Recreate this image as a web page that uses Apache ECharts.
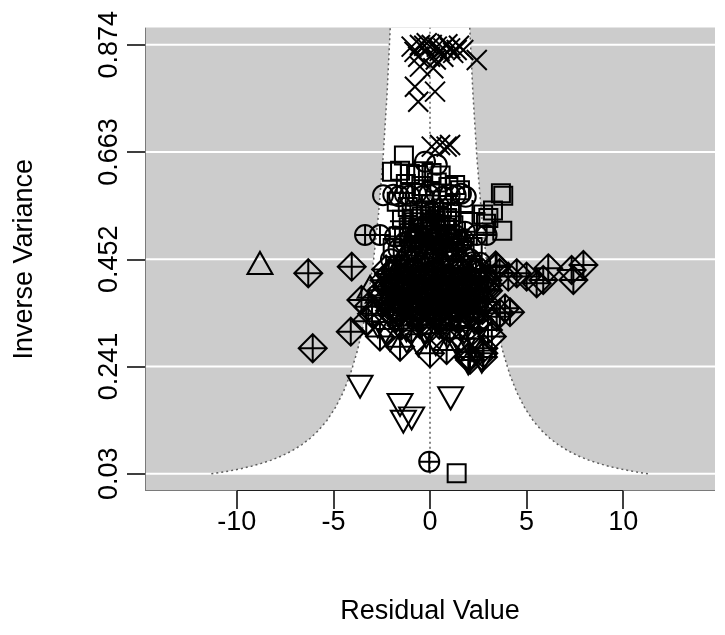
<!DOCTYPE html>
<html><head><meta charset="utf-8">
<script src="https://cdn.jsdelivr.net/npm/echarts@6/dist/echarts.min.js"></script>
<style>html,body{margin:0;padding:0;background:#fff}#main{width:725px;height:635px}</style>
</head><body><div id="main"></div>
<script>
// ---- axes ----
const xTicks = [-10, -5, 0, 5, 10];
const yTicks = [0.03, 0.241, 0.452, 0.663, 0.874];
const yTickLabels = ['0.03', '0.241', '0.452', '0.663', '0.874'];
const xRange = [-14.75, 14.75];
const yRange = [-0.0038, 0.9078];

// ---- funnel (pseudo confidence region) ----
const funnelY = [0.030,0.033,0.036,0.040,0.045,0.050,0.057,0.065,0.075,0.087,0.100,0.115,0.135,0.160,0.190,0.225,0.270,0.320,0.380,0.450,0.540,0.650,0.780,0.9078];
const funnelHalfWidth = [11.316,10.789,10.330,9.800,9.239,8.765,8.210,7.688,7.157,6.645,6.198,5.780,5.334,4.900,4.497,4.132,3.772,3.465,3.180,2.922,2.667,2.431,2.219,2.057];

// ---- points by plotting symbol ----
const squarePts = [
 [-1.62,0.497],[-1.08,0.503],[-0.53,0.494],[0.02,0.506],[0.51,0.498],[1.04,0.502],[1.48,0.493],
 [-1.93,0.474],[-1.41,0.468],[-0.86,0.477],[-0.31,0.471],[0.22,0.479],[0.74,0.466],[1.26,0.475],[1.79,0.469],[2.21,0.476],
 [-1.35,0.656],[-1.97,0.624],[-1.55,0.626],[-1.04,0.620],[-0.72,0.618],[-0.35,0.625],[0.08,0.622],[0.55,0.617],[1.30,0.598],[1.55,0.588],
 [-1.72,0.565],[-1.15,0.555],[-0.55,0.548],[0.05,0.560],[0.62,0.552],[1.12,0.545],[-1.45,0.530],[-0.80,0.525],[0.30,0.528],[0.90,0.532],
 [-1.25,0.600],[-0.45,0.596],[0.35,0.603],[0.95,0.594],[-0.95,0.540],[0.55,0.520],[-0.15,0.515],
 [-1.10,0.515],[-0.62,0.511],[0.12,0.522],[0.78,0.514],[1.21,0.519],
 [-0.85,0.532],[-0.42,0.536],[0.02,0.531],[0.46,0.537],[0.88,0.533],[-0.20,0.548],[0.25,0.545],
 [3.79,0.577],[3.67,0.582],[3.26,0.548],[3.02,0.533],[3.74,0.508],[2.75,0.540],[2.90,0.522],
 [1.38,0.031]
];
const circlePts = [
 [-2.43,0.578],[-1.90,0.579],[-1.60,0.576],[-1.30,0.580],[-1.05,0.577],[-0.72,0.581],[-0.38,0.576],[-0.05,0.579],
 [0.33,0.582],[0.68,0.575],[1.02,0.579],[1.33,0.578],[1.60,0.581],[1.85,0.575],
 [-0.26,0.644],[0.35,0.638],
 [-1.22,0.455],[-0.64,0.448],[-0.10,0.458],[0.47,0.451],[1.02,0.456],[1.58,0.447],[2.08,0.452],[-1.75,0.440],[2.60,0.445],
 [1.30,0.500],[1.75,0.490],
 [-1.63,0.472],[-0.66,0.468],[0.37,0.473],[1.36,0.467],[-2.02,0.452],[-0.95,0.447],[0.09,0.453],[1.14,0.449],[2.19,0.446]
];
const triUpPts = [
 [-8.80,0.4448],[-3.10,0.398],[-2.68,0.388],[-2.05,0.433],[-1.45,0.440],[-0.92,0.432],[-0.38,0.437],[0.18,0.431],
 [0.72,0.439],[1.21,0.434],[1.73,0.430],[2.27,0.438],[-1.80,0.388],[-0.60,0.370],[0.50,0.368],[1.55,0.370],
 [-1.18,0.471],[-0.14,0.466],[0.88,0.474],[1.87,0.469],[-1.47,0.451],[-0.41,0.455],[0.61,0.448],[1.66,0.454],
 [-0.90,0.500],[-0.35,0.497],[0.22,0.501],[0.70,0.497]
];
const plusPts = [
 [-1.40,0.527],[-1.00,0.515],[0.20,0.535],[1.50,0.545],[2.20,0.543],[-0.50,0.505],[0.80,0.510]
];
const crossPts = [
 [-0.95,0.8703],[-0.52,0.8737],[-0.17,0.877],[0.09,0.8737],[0.35,0.8703],[0.69,0.867],[1.04,0.867],[1.38,0.8638],
 [1.72,0.8638],[2.42,0.8441],[-0.61,0.8506],[0.00,0.8506],[0.69,0.8506],[-0.52,0.831],[0.17,0.8278],
 [-0.78,0.7916],[0.26,0.7818],[-0.61,0.762],[0.09,0.6736],[0.52,0.677],[0.86,0.6736],[1.04,0.677],
 [-0.30,0.872],[0.50,0.862],[1.20,0.858],[-0.80,0.860],[0.30,0.845],[1.50,0.872],[0.90,0.875]
];
const triDownPts = [
 [-3.62,0.2014],[-1.55,0.1654],[-0.95,0.139],[-1.38,0.1325],[1.07,0.1786],
 [1.98,0.2474],[2.68,0.2506],[-2.07,0.2933],[-1.20,0.290],[-0.60,0.283],[0.30,0.285],[1.30,0.290],
 [2.30,0.295],[-2.70,0.320],[-0.20,0.300],[0.90,0.300],[1.70,0.275],[-2.33,0.307],[2.17,0.274],
 [-1.73,0.331],[-0.71,0.334],[0.33,0.329],[1.31,0.332],[2.28,0.328],
 [-1.22,0.312],[-0.26,0.309],[0.74,0.313],[1.77,0.308]
];
const diamondPlusPts = [
 [-6.30,0.4245],[-4.05,0.4375],[-4.10,0.3096],[-6.07,0.277],
 [4.49,0.4245],[5.00,0.418],[6.12,0.4343],[5.86,0.4113],[7.33,0.431],[7.94,0.4408],[7.42,0.4113],[4.05,0.418],[5.52,0.4048],
 [3.88,0.3556],[3.45,0.339],[2.76,0.277],[1.98,0.260],[3.62,0.346],[3.00,0.313],[2.74,0.260],[2.07,0.260],[4.14,0.348],[3.45,0.437],
 [-3.19,0.3588],[-2.59,0.300],[-1.55,0.280],[0.00,0.267],[0.86,0.2736],[2.07,0.254],[2.76,0.267],
 [-3.55,0.372],[-3.00,0.345],[-3.30,0.330],[3.20,0.300],[3.00,0.390],[3.40,0.440],[3.60,0.425],
 [-2.13,0.423],[-1.58,0.417],[-1.12,0.426],[-0.57,0.414],[-0.08,0.421],[0.43,0.428],[0.87,0.415],[1.42,0.424],[1.93,0.418],[2.38,0.427],[2.83,0.413],
 [-2.24,0.398],[-1.73,0.404],[-1.16,0.395],[-0.72,0.402],[-0.17,0.397],[0.33,0.405],[0.81,0.394],[1.27,0.401],[1.84,0.396],[2.31,0.403],[2.74,0.392],
 [-2.46,0.381],[-1.88,0.376],[-1.41,0.384],[-0.93,0.378],[-0.38,0.383],[0.12,0.375],[0.63,0.382],[1.08,0.377],[1.62,0.385],[2.14,0.379],[2.61,0.374],
 [-2.18,0.362],[-1.69,0.356],[-1.22,0.364],[-0.66,0.358],[-0.23,0.363],[0.28,0.355],[0.79,0.361],[1.33,0.357],[1.77,0.364],[2.29,0.358],[2.71,0.352],
 [-1.92,0.342],[-1.37,0.336],[-0.88,0.344],[-0.42,0.337],[0.14,0.343],[0.57,0.335],[1.13,0.341],[1.58,0.338],[2.07,0.345],[2.53,0.333],
 [-1.47,0.322],[-0.97,0.316],[-0.52,0.324],[0.04,0.318],[0.48,0.323],[1.02,0.315],[1.53,0.321],[1.96,0.317],
 [-2.27,0.432],[-1.79,0.428],[-1.31,0.434],[-0.83,0.429],[-0.29,0.433],[0.21,0.427],[0.68,0.431],[1.18,0.435],[1.71,0.428],[2.16,0.433],[2.63,0.429],
 [-2.36,0.411],[-1.85,0.407],[-1.38,0.413],[-0.89,0.409],[-0.33,0.412],[0.18,0.406],[0.66,0.411],[1.13,0.414],[1.67,0.408],[2.12,0.412],[2.58,0.407],[2.97,0.411],
 [-2.49,0.391],[-1.97,0.388],[-1.46,0.393],[-0.98,0.389],[-0.45,0.392],[0.07,0.386],[0.55,0.391],[1.04,0.394],[1.52,0.387],[2.03,0.392],[2.49,0.388],[2.92,0.393],
 [-2.31,0.371],[-1.62,0.368],[-1.13,0.373],[-0.63,0.369],[-0.12,0.372],[0.37,0.366],[0.86,0.371],[1.38,0.374],[1.86,0.367],[2.37,0.372],[2.82,0.368],
 [-2.07,0.351],[-1.55,0.348],[-1.04,0.353],[-0.53,0.349],[-0.04,0.352],[0.47,0.346],[0.96,0.351],[1.45,0.354],[1.96,0.347],[2.44,0.352]
];
const circlePlusPts = [
 [-3.36,0.4998],[-2.59,0.4998],[-1.81,0.497],[1.81,0.5063],[2.42,0.4998],[2.93,0.4998],[-0.04,0.0538],
 [-1.30,0.485],[-0.75,0.490],[-0.20,0.484],[0.35,0.492],[0.90,0.486],[1.45,0.480],
 [-1.05,0.488],[-0.50,0.483],[0.12,0.489],[0.62,0.481],[1.12,0.492],[1.62,0.486],[-0.35,0.517],[0.30,0.512]
];

const FONT = '"Liberation Sans", Arial, Helvetica, sans-serif';
const FS = 27;
const INK = { color: 'rgba(0,0,0,0)', borderColor: '#000', borderWidth: 2, opacity: 1 };

function pointSeries(name, data, symbol, size) {
  return { name, type: 'scatter', data, symbol, symbolSize: size, itemStyle: INK, z: 3, silent: true, animation: false };
}

const chart = echarts.init(document.getElementById('main'), null, { renderer: 'canvas' });
chart.setOption({
  animation: false,
  backgroundColor: '#ffffff',
  grid: { left: 145, right: 10, top: 27.6, bottom: 144, show: true, backgroundColor: '#cccccc', borderWidth: 0 },
  xAxis: {
    type: 'value', min: xRange[0], max: xRange[1],
    axisLine: { show: false, onZero: false },
    splitLine: { show: false },
    axisTick: { show: true, customValues: xTicks, length: 18, lineStyle: { color: '#000', width: 1.5 } },
    axisLabel: { customValues: xTicks, margin: 18, fontSize: FS, color: '#000', fontFamily: FONT,
      formatter: v => String(v) },
    name: 'Residual Value', nameLocation: 'middle', nameGap: 107,
    nameTextStyle: { fontSize: FS, color: '#000', fontFamily: FONT }
  },
  yAxis: {
    type: 'value', min: yRange[0], max: yRange[1],
    axisLine: { show: false, onZero: false },
    splitLine: { show: false },
    axisTick: { show: true, customValues: yTicks, length: 18, lineStyle: { color: '#000', width: 1.5 } },
    axisLabel: { customValues: yTicks, margin: 22, rotate: 90, fontSize: FS, color: '#000', fontFamily: FONT,
      formatter: v => { const i = yTicks.findIndex(t => Math.abs(t - v) < 1e-9); return i >= 0 ? yTickLabels[i] : ''; } },
    name: 'Inverse Variance', nameLocation: 'middle', nameGap: 107,
    nameTextStyle: { fontSize: FS, color: '#000', fontFamily: FONT }
  },
  series: [
    {
      type: 'custom', z: 1, silent: true, data: [[0, 0]], clip: true,
      renderItem: function (params, api) {
        const kids = [];
        yTicks.forEach(t => {
          const a = api.coord([xRange[0], t]), b = api.coord([xRange[1], t]);
          kids.push({ type: 'line', shape: { x1: a[0], y1: a[1], x2: b[0], y2: b[1] }, style: { stroke: '#ffffff', lineWidth: 2 } });
        });
        const leftPts = [], rightPts = [];
        for (let i = 0; i < funnelY.length; i++) leftPts.push(api.coord([-funnelHalfWidth[i], funnelY[i]]));
        for (let i = funnelY.length - 1; i >= 0; i--) rightPts.push(api.coord([funnelHalfWidth[i], funnelY[i]]));
        kids.push({ type: 'polygon', shape: { points: leftPts.concat(rightPts) }, style: { fill: '#ffffff' } });
        const dotted = { stroke: '#5e5e5e', lineWidth: 1.5, lineDash: [2, 3], fill: null };
        kids.push({ type: 'polyline', shape: { points: leftPts }, style: dotted });
        kids.push({ type: 'polyline', shape: { points: rightPts }, style: dotted });
        const c0 = api.coord([0, funnelY[0]]), c1 = api.coord([0, yRange[1]]);
        kids.push({ type: 'line', shape: { x1: c0[0], y1: c0[1], x2: c1[0], y2: c1[1] }, style: dotted });
        const bl = api.coord([xRange[0], yRange[0]]), tl = api.coord([xRange[0], yRange[1]]), br = api.coord([xRange[1], yRange[0]]);
        kids.push({ type: 'polyline', shape: { points: [tl, bl, br] }, style: { stroke: '#7a7a7a', lineWidth: 2, fill: null } });
        const xa = api.coord([xTicks[0], yRange[0]]), xb = api.coord([xTicks[xTicks.length - 1], yRange[0]]);
        kids.push({ type: 'line', shape: { x1: xa[0], y1: xa[1], x2: xb[0], y2: xb[1] }, style: { stroke: '#000', lineWidth: 1.5 } });
        return { type: 'group', children: kids };
      }
    },
    pointSeries('pch0', squarePts, 'rect', 18),
    pointSeries('pch1', circlePts, 'circle', 20),
    pointSeries('pch2', triUpPts, 'triangle', [25, 22]),
    pointSeries('pch3', plusPts, 'path://M5,0L5,10M0,5L10,5', 26),
    pointSeries('pch4', crossPts, 'path://M0,0L10,10M10,0L0,10', 20),
    pointSeries('pch6', triDownPts, 'path://M0,0L10,0L5,8.66Z', [25, 22]),
    pointSeries('pch9', diamondPlusPts, 'path://M5,0L10,5L5,10L0,5ZM5,0L5,10M0,5L10,5', 28),
    pointSeries('pch10', circlePlusPts, 'path://M0,5A5,5,0,1,1,10,5A5,5,0,1,1,0,5ZM5,0L5,10M0,5L10,5', 20)
  ]
});
</script>
</body></html>
